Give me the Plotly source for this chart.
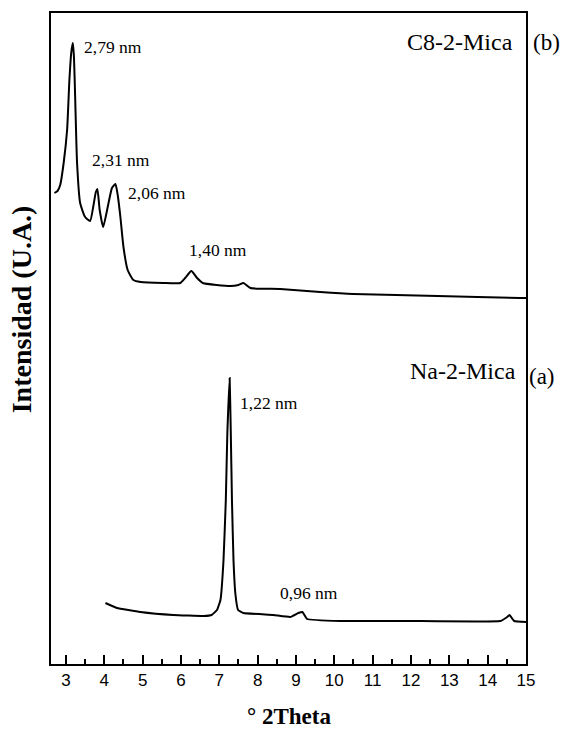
import plotly.graph_objects as go

# XRD patterns: 2-theta (degrees) vs intensity (arbitrary units)
two_theta_c8 = [2.70, 2.78, 2.85, 2.94, 3.03, 3.09, 3.14, 3.18, 3.21, 3.24, 3.29,
                3.37, 3.50, 3.63, 3.72, 3.78, 3.82, 3.88, 3.97, 4.10, 4.20, 4.29,
                4.35, 4.42, 4.50, 4.61, 4.76, 4.95, 5.54, 5.98, 6.11, 6.27, 6.42,
                6.57, 7.29, 7.50, 7.63, 7.81, 8.59, 9.63, 10.49, 12.69, 14.85, 15.00]
intensity_c8 = [471, 473, 479, 501, 534, 584, 612, 621, 606, 567, 501,
                461, 447, 443, 459, 472, 475, 454, 437, 459, 476, 480,
                469, 447, 417, 394, 384, 382, 381, 381, 386, 393, 386,
                381, 378, 379, 381, 376, 375, 372, 370, 368, 366, 366]

two_theta_na = [4.03, 4.33, 4.94, 5.80, 6.58, 6.80, 6.94, 7.03, 7.11, 7.17, 7.21,
                7.27, 7.30, 7.33, 7.37, 7.42, 7.49, 7.63, 8.41, 8.85, 9.06, 9.17,
                9.29, 10.16, 11.90, 14.33, 14.51, 14.57, 14.69, 15.00]
intensity_na = [61, 56, 52, 49, 48, 49, 54, 64, 104, 164, 231,
                286, 231, 164, 104, 70, 54, 51, 49, 47, 51, 52,
                45, 43, 43, 43, 47, 49, 43, 42]

# d-spacing labels: (text, 2-theta, intensity)
peak_labels = [
    ("2,79 nm", 3.42, 617),
    ("2,31 nm", 3.63, 504),
    ("2,06 nm", 4.57, 471),
    ("1,40 nm", 6.16, 414),
    ("1,22 nm", 7.50, 261),
    ("0,96 nm", 8.52, 71),
]

x_ticks = list(range(3, 16))

SERIF = "Liberation Serif, Times New Roman, serif"
SANS = "Liberation Sans, Arial, sans-serif"

fig = go.Figure()
fig.add_trace(go.Scatter(x=two_theta_c8, y=intensity_c8, mode="lines",
                         line=dict(color="black", width=2, shape="spline", smoothing=0.5),
                         showlegend=False, hoverinfo="skip"))
fig.add_trace(go.Scatter(x=two_theta_na, y=intensity_na, mode="lines",
                         line=dict(color="black", width=2, shape="spline", smoothing=0.3),
                         showlegend=False, hoverinfo="skip"))

annotations = []
for text, xv, yv in peak_labels:
    annotations.append(dict(x=xv, y=yv, xref="x", yref="y", text=text,
                            showarrow=False, xanchor="left", yanchor="middle",
                            font=dict(family=SERIF, size=17.5, color="black")))

annotations += [
    dict(x=14.72, y=622, xref="x", yref="y", text="C8-2-Mica", showarrow=False,
         xanchor="right", yanchor="middle", font=dict(family=SERIF, size=24, color="black")),
    dict(x=1.011, y=(664 - 42) / 651, xref="paper", yref="paper", text="(b)", showarrow=False,
         xanchor="left", yanchor="middle", font=dict(family=SERIF, size=23, color="black")),
    dict(x=14.80, y=293, xref="x", yref="y", text="Na-2-Mica", showarrow=False,
         xanchor="right", yanchor="middle", font=dict(family=SERIF, size=24, color="black")),
    dict(x=1.002, y=(664 - 377) / 651, xref="paper", yref="paper", text="(a)", showarrow=False,
         xanchor="left", yanchor="middle", font=dict(family=SERIF, size=23, color="black")),
    dict(x=0.5, y=-0.081, xref="paper", yref="paper", text="<b>° 2Theta</b>", showarrow=False,
         xanchor="center", yanchor="middle", font=dict(family=SERIF, size=23, color="black")),
    dict(x=-0.063, y=0.545, xref="paper", yref="paper", text="<b>Intensidad (U.A.)</b>",
         showarrow=False, textangle=-90, xanchor="center", yanchor="middle",
         font=dict(family=SERIF, size=28, color="black")),
]

fig.update_layout(
    width=563, height=732,
    margin=dict(l=51, r=37, t=13, b=68),
    paper_bgcolor="white", plot_bgcolor="white",
    annotations=annotations,
    xaxis=dict(range=[2.61, 15.0], tickvals=x_ticks, ticktext=[str(v) for v in x_ticks],
               ticks="inside", ticklen=9, tickwidth=1.5, tickcolor="black",
               minor=dict(dtick=0.5, tick0=2.5, ticks="inside", ticklen=5, tickwidth=1.5,
                          tickcolor="black", showgrid=False),
               showline=True, linecolor="black", linewidth=2, mirror=True,
               showgrid=False, zeroline=False,
               tickfont=dict(family=SANS, size=17, color="black")),
    yaxis=dict(range=[0, 651], showticklabels=False, ticks="",
               showline=True, linecolor="black", linewidth=2, mirror=True,
               showgrid=False, zeroline=False),
)

fig.write_html("out.html")
